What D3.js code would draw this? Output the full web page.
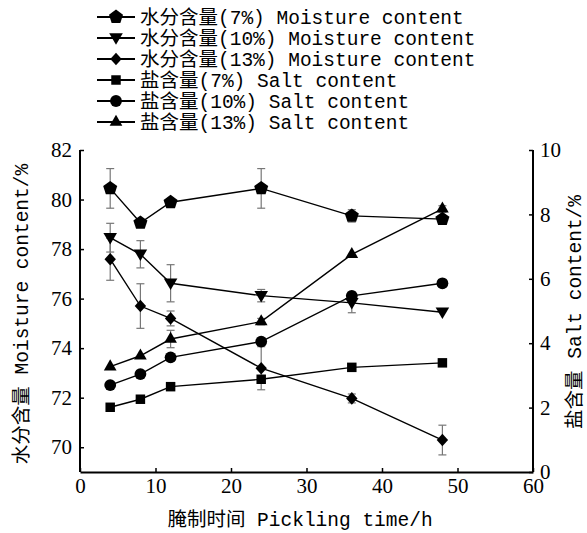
<!DOCTYPE html>
<html>
<head>
<meta charset="utf-8">
<script src="https://cdn.jsdelivr.net/npm/d3@7"></script>
<style>
  body { margin: 0; background: #fff; }
  svg { display: block; }
  .tick text { font-family: "Liberation Serif", serif; font-size: 21px; fill: #000; }
  .lbl { font-family: "Liberation Mono", "Noto Sans CJK SC", monospace; font-size: 19.5px; fill: #000; }
</style>
</head>
<body>
<script>
// pickling time (h)
const hours = [4, 8, 12, 24, 36, 48];

// moisture content (%) - left axis
const moist7 = [80.45, 79.06, 79.89, 80.45, 79.34, 79.21];
const moist10 = [78.46, 77.79, 76.62, 76.12, 75.83, 75.45];
const moist13 = [77.59, 75.70, 75.20, 73.19, 71.97, 70.29];
const moist7Err = [0.8, 0, 0, 0.8, 0.25, 0.1];
const moist10Err = [0.58, 0.55, 0.75, 0.25, 0.4, 0];
const moist13Err = [0.85, 0.9, 0.3, 0.87, 0.18, 0.6];

// salt content (%) - right axis
const salt7 = [2.01, 2.26, 2.65, 2.88, 3.25, 3.39];
const salt10 = [2.70, 3.04, 3.56, 4.05, 5.47, 5.86];
const salt13 = [3.27, 3.61, 4.13, 4.67, 6.76, 8.17];
const salt7Err = [0, 0, 0, 0, 0, 0];
const salt10Err = [0, 0, 0, 0.1, 0.12, 0];
const salt13Err = [0, 0, 0.27, 0.1, 0, 0.1];

const legendLabels = [
  "水分含量(7%) Moisture content",
  "水分含量(10%) Moisture content",
  "水分含量(13%) Moisture content",
  "盐含量(7%) Salt content",
  "盐含量(10%) Salt content",
  "盐含量(13%) Salt content"
];
const xTicks = [0, 10, 20, 30, 40, 50, 60];
const leftTicks = [70, 72, 74, 76, 78, 80, 82];
const rightTicks = [0, 2, 4, 6, 8, 10];

const width = 587, height = 533;
const margin = { left: 80, right: 54, top: 150, bottom: 61 };
const plotW = width - margin.left - margin.right;
const plotH = height - margin.top - margin.bottom;

const svg = d3.select("body").append("svg")
  .attr("width", width)
  .attr("height", height);

const x = d3.scaleLinear().domain([0, 60]).range([0, plotW]);
const yL = d3.scaleLinear().domain([69, 82]).range([plotH, 0]);
const yR = d3.scaleLinear().domain([0, 10]).range([plotH, 0]);

// custom shapes
const pentagon = {
  draw(ctx, size) {
    const r = Math.sqrt(size / 2.38);
    for (let i = 0; i < 5; i++) {
      const a = -Math.PI / 2 + i * 2 * Math.PI / 5;
      if (i === 0) ctx.moveTo(r * Math.cos(a), r * Math.sin(a));
      else ctx.lineTo(r * Math.cos(a), r * Math.sin(a));
    }
    ctx.closePath();
  }
};
const triDown = {
  draw(ctx, size) {
    const h = Math.sqrt(size / 0.433);
    ctx.moveTo(-h / 2, -h * 0.35);
    ctx.lineTo(h / 2, -h * 0.35);
    ctx.lineTo(0, h * 0.5);
    ctx.closePath();
  }
};
const diamond = {
  draw(ctx, size) {
    const h = Math.sqrt(size / 2), w = h * 0.9;
    ctx.moveTo(0, -h);
    ctx.lineTo(w, 0);
    ctx.lineTo(0, h);
    ctx.lineTo(-w, 0);
    ctx.closePath();
  }
};

const series = [
  { vals: moist7, err: moist7Err, y: yL, shape: pentagon, size: 130 },
  { vals: moist10, err: moist10Err, y: yL, shape: triDown, size: 80 },
  { vals: moist13, err: moist13Err, y: yL, shape: diamond, size: 80 },
  { vals: salt7, err: salt7Err, y: yR, shape: d3.symbolSquare, size: 90 },
  { vals: salt10, err: salt10Err, y: yR, shape: d3.symbolCircle, size: 110 },
  { vals: salt13, err: salt13Err, y: yR, shape: d3.symbolTriangle, size: 70 }
];

const g = svg.append("g")
  .attr("transform", "translate(" + margin.left + "," + margin.top + ")");

// axes
const xAxis = g.append("g")
  .attr("transform", "translate(0," + plotH + ")")
  .call(d3.axisBottom(x).tickValues(xTicks).tickSizeInner(-4).tickSizeOuter(0).tickPadding(12));
const leftAxis = g.append("g")
  .call(d3.axisLeft(yL).tickValues(leftTicks).tickSizeInner(-4).tickSizeOuter(0).tickPadding(8));
const rightAxis = g.append("g")
  .attr("transform", "translate(" + plotW + ",0)")
  .call(d3.axisRight(yR).tickValues(rightTicks).tickSizeInner(-4).tickSizeOuter(0).tickPadding(7));

[xAxis, leftAxis, rightAxis].forEach(a => {
  a.select(".domain").attr("stroke", "#000").attr("stroke-width", 2);
  a.selectAll(".tick line").attr("stroke", "#000").attr("stroke-width", 1.5);
});
leftAxis.select(".domain").attr("d", "M0," + plotH + "V0");
rightAxis.select(".domain").attr("d", "M0," + plotH + "V0");
xAxis.selectAll(".tick text").attr("dy", "0.45em");

// error bars
series.forEach(s => {
  const eg = g.append("g").attr("stroke", "#777").attr("stroke-width", 1.2);
  hours.forEach((h, i) => {
    if (!s.err[i]) return;
    const cx = x(h);
    const y1 = s.y(s.vals[i] + s.err[i]);
    const y2 = s.y(s.vals[i] - s.err[i]);
    eg.append("line").attr("x1", cx).attr("x2", cx).attr("y1", y1).attr("y2", y2);
    eg.append("line").attr("x1", cx - 4).attr("x2", cx + 4).attr("y1", y1).attr("y2", y1);
    eg.append("line").attr("x1", cx - 4).attr("x2", cx + 4).attr("y1", y2).attr("y2", y2);
  });
});

// lines and markers
series.forEach(s => {
  const line = d3.line()
    .x((d, i) => x(hours[i]))
    .y(d => s.y(d));
  g.append("path")
    .datum(s.vals)
    .attr("fill", "none")
    .attr("stroke", "#000")
    .attr("stroke-width", 1.4)
    .attr("d", line);
  g.selectAll(null)
    .data(s.vals)
    .join("path")
    .attr("transform", (d, i) => "translate(" + x(hours[i]) + "," + s.y(d) + ")")
    .attr("d", d3.symbol().type(s.shape).size(s.size))
    .attr("fill", "#000");
});

// legend
const leg = svg.append("g");
legendLabels.forEach((t, i) => {
  const ly = 17 + i * 21;
  leg.append("line").attr("x1", 97).attr("x2", 135).attr("y1", ly).attr("y2", ly)
    .attr("stroke", "#000").attr("stroke-width", 2);
  leg.append("path")
    .attr("transform", "translate(116," + ly + ")")
    .attr("d", d3.symbol().type(series[i].shape).size(series[i].size))
    .attr("fill", "#000");
  leg.append("text").attr("class", "lbl")
    .attr("x", 140).attr("y", ly).attr("dy", "0.35em")
    .text(t);
});

// axis titles
svg.append("text").attr("class", "lbl")
  .attr("x", 300).attr("y", 526)
  .attr("text-anchor", "middle")
  .text("腌制时间 Pickling time/h");
svg.append("text").attr("class", "lbl")
  .attr("transform", "translate(21," + 314 + ") rotate(-90)")
  .attr("text-anchor", "middle").attr("dy", "0.35em")
  .text("水分含量 Moisture content/%");
svg.append("text").attr("class", "lbl")
  .attr("transform", "translate(574," + 312 + ") rotate(-90)")
  .attr("text-anchor", "middle").attr("dy", "0.35em")
  .text("盐含量 Salt content/%");
</script>
</body>
</html>
